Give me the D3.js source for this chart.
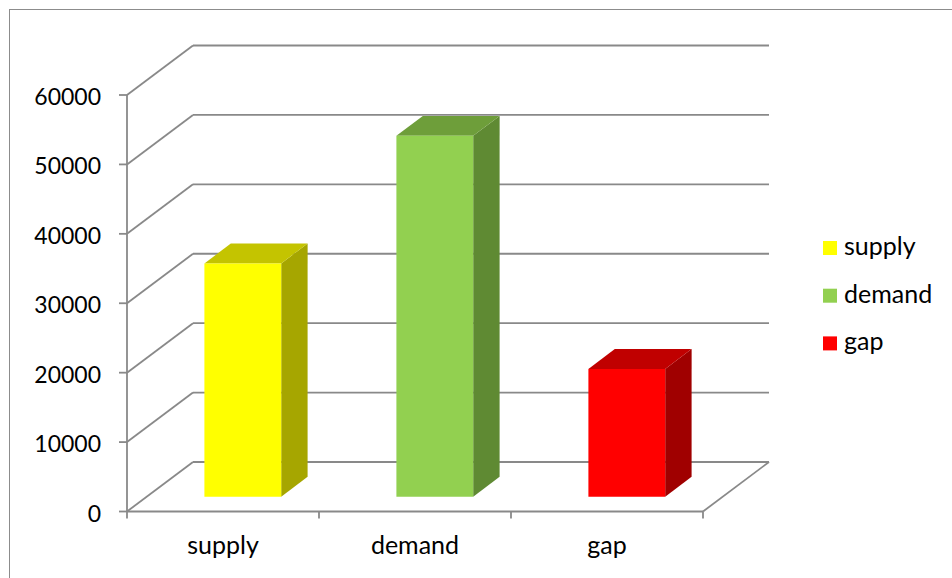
<!DOCTYPE html>
<html>
<head>
<meta charset="utf-8">
<script src="https://cdn.jsdelivr.net/npm/d3@7"></script>
<style>
  html, body { margin: 0; padding: 0; background: #fff; }
  svg { display: block; }
  text { font-family: Lato, "Open Sans", sans-serif; fill: #000; }
</style>
</head>
<body>
<svg id="chart" width="952" height="578"></svg>
<script>
const categories = ["supply", "demand", "gap"];
const values = [33600, 52000, 18400];
const yTicks = [0, 10000, 20000, 30000, 40000, 50000, 60000];
const frontColors = ["#FFFF00", "#92D050", "#FF0000"];
const topColors = ["#C4C400", "#6E9E3A", "#C00000"];
const sideColors = ["#A6A600", "#5F8A33", "#A00000"];

const svg = d3.select("#chart");

// outer chart border
svg.append("rect").attr("x", 9.5).attr("y", 9.5).attr("width", 960).attr("height", 600)
  .attr("fill", "none").attr("stroke", "#8c8c8c").attr("stroke-width", 1);

const x0 = 127, x1 = 703;
const yBase = 511.5;
const depthDx = 66, depthDy = -49.5;

const y = d3.scaleLinear().domain([0, 60000]).range([yBase, 95]);
const xCat = d3.scaleBand().domain(categories).range([x0, x1]);
const xBar = d3.scaleBand().domain(categories).range([x0, x1]).paddingInner(0.6).paddingOuter(0.3);

function P(px, py, d) { return [px + d * depthDx, py + d * depthDy]; }

const grid = svg.append("g").attr("stroke", "#898989").attr("stroke-width", 1.8).attr("fill", "none");
// back wall and side wall gridlines
yTicks.forEach(t => {
  const a = P(x0, y(t), 1), b = P(x1, y(t), 1);
  grid.append("line").attr("x1", a[0]).attr("y1", a[1]).attr("x2", b[0]).attr("y2", b[1]);
  grid.append("line").attr("x1", x0).attr("y1", y(t)).attr("x2", a[0]).attr("y2", a[1]);
});
// floor right edge
{
  const a = P(x1, yBase, 0), b = P(x1, yBase, 1);
  grid.append("line").attr("x1", a[0]).attr("y1", a[1]).attr("x2", b[0]).attr("y2", b[1]);
}

// bars
const d0 = 0.3, d1 = 0.7;
const bars = svg.append("g");
const poly = pts => pts.map(p => p.join(",")).join(" ");
categories.forEach((c, i) => {
  const xl = xBar(c), xr = xBar(c) + xBar.bandwidth();
  const yt = y(values[i]);
  bars.append("polygon").attr("fill", sideColors[i]).attr("points", poly([
    P(xr, yBase, d0), P(xr, yBase, d1), P(xr, yt, d1), P(xr, yt, d0)]));
  bars.append("polygon").attr("fill", topColors[i]).attr("points", poly([
    P(xl, yt, d0), P(xr, yt, d0), P(xr, yt, d1), P(xl, yt, d1)]));
  bars.append("polygon").attr("fill", frontColors[i]).attr("points", poly([
    P(xl, yBase, d0), P(xr, yBase, d0), P(xr, yt, d0), P(xl, yt, d0)]));
});

// front axes
const axes = svg.append("g").attr("stroke", "#898989").attr("stroke-width", 1.8);
axes.append("line").attr("x1", x0).attr("y1", y(60000)).attr("x2", x0).attr("y2", yBase);
axes.append("line").attr("x1", x0).attr("y1", yBase).attr("x2", x1).attr("y2", yBase);
yTicks.forEach(t => {
  axes.append("line").attr("x1", x0 - 8).attr("y1", y(t)).attr("x2", x0).attr("y2", y(t));
});
const bounds = categories.map(c => xCat(c)).concat([x1]);
bounds.forEach(b => {
  axes.append("line").attr("x1", b).attr("y1", yBase).attr("x2", b).attr("y2", yBase + 7);
});

// y labels
svg.append("g").selectAll("text").data(yTicks).join("text")
  .attr("x", 101).attr("y", t => y(t) + 10)
  .attr("text-anchor", "end").attr("font-size", 23)
  .text(t => String(t));

// x labels
svg.append("g").selectAll("text").data(categories).join("text")
  .attr("x", c => xCat(c) + xCat.bandwidth() / 2).attr("y", 554)
  .attr("text-anchor", "middle").attr("font-size", 25)
  .text(c => c);

// legend
const lg = svg.append("g");
categories.forEach((c, i) => {
  const ly = 241 + i * 47.7;
  lg.append("rect").attr("x", 823).attr("y", ly).attr("width", 14).attr("height", 14).attr("fill", frontColors[i]);
  lg.append("text").attr("x", 844).attr("y", ly + 14).attr("font-size", 25).text(c);
});
</script>
</body>
</html>
